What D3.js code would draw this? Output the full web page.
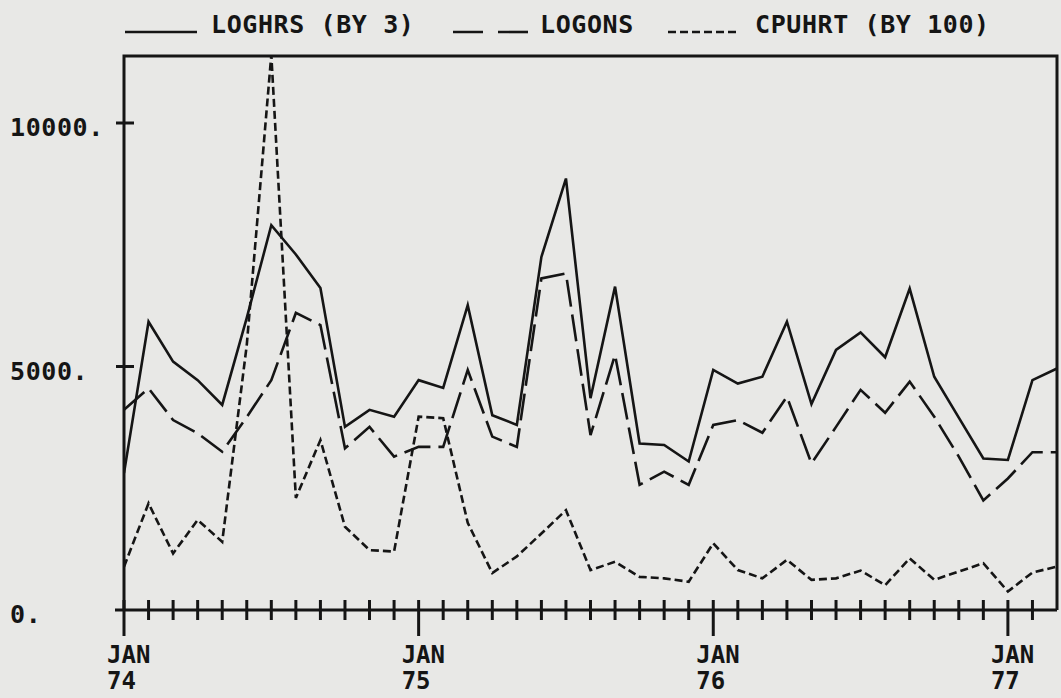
<!DOCTYPE html>
<html>
<head>
<meta charset="utf-8">
<script src="https://d3js.org/d3.v7.min.js"></script>
<style>
  body { margin: 0; background: #e8e8e6; }
  text { font-family: "DejaVu Sans Mono", monospace; font-weight: bold; fill: #151515; }
</style>
</head>
<body>
<div id="my_dataviz"></div>
<script>
// months since JAN 74 (0 .. 38 = MAR 77)
var months = d3.range(0, 39);

// LOGHRS (BY 3)
var loghrs = [2810, 5920, 5100, 4720, 4210, 6000, 7900, 7300, 6610, 3760,
              4110, 3970, 4720, 4560, 6260, 4000, 3800, 7250, 8860, 4350,
              6640, 3420, 3390, 3050, 4930, 4650, 4790, 5920, 4230, 5340,
              5700, 5190, 6600, 4790, 3950, 3110, 3080, 4720, 4960];

// LOGONS
var logons = [4110, 4550, 3900, 3630, 3250, 3960, 4720, 6100, 5850, 3320,
              3760, 3150, 3350, 3350, 4930, 3560, 3350, 6810, 6910, 3590,
              5240, 2570, 2840, 2570, 3800, 3900, 3640, 4380, 3010, 3760,
              4520, 4050, 4690, 3970, 3150, 2250, 2700, 3240, 3240];

// CPUHRT (BY 100)
var cpuhrt = [890, 2190, 1160, 1850, 1400, 5440, 11400, 2300, 3490, 1710,
              1230, 1200, 3970, 3940, 1790, 760, 1100, 1570, 2050, 820,
              990, 680, 650, 580, 1370, 820, 650, 1030, 620, 650,
              810, 510, 1060, 620, 790, 960, 380, 770, 890];

var yTicks = [0, 5000, 10000];
var yTickLabels = ["0.", "5000.", "10000."];
var xMajor = [0, 12, 24, 36];
var xMajorLabels = [["JAN", "74"], ["JAN", "75"], ["JAN", "76"], ["JAN", "77"]];

var W = 1061, H = 698;
// plot box (note: "top" is reserved on window, so use p* names)
var pLeft = 124, pRight = 1057, pTop = 56, pBottom = 610;

var svg = d3.select("#my_dataviz")
  .append("svg")
    .attr("width", W)
    .attr("height", H);

var x = d3.scaleLinear().domain([0, 38]).range([pLeft, pRight]);
var y = d3.scaleLinear().domain([0, 10000]).range([pBottom, 123]);

var ink = "#151515";

svg.append("clipPath").attr("id", "plotclip")
  .append("rect")
    .attr("x", pLeft).attr("y", pTop)
    .attr("width", pRight - pLeft).attr("height", pBottom - pTop);

// Series lines
var series = [
  {values: loghrs, dash: null},
  {values: logons, dash: "27,8"},
  {values: cpuhrt, dash: "8,4"}
];

var line = d3.line()
  .x(function(d, i) { return x(months[i]); })
  .y(function(d) { return y(d); });

svg.append("g")
  .attr("clip-path", "url(#plotclip)")
  .selectAll("path")
  .data(series)
  .enter().append("path")
    .attr("d", function(d) { return line(d.values); })
    .attr("fill", "none")
    .attr("stroke", ink)
    .attr("stroke-width", 2.6)
    .attr("stroke-linejoin", "miter")
    .attr("stroke-dasharray", function(d) { return d.dash; });

// Frame
svg.append("path")
  .attr("d", "M" + pLeft + "," + pBottom + "V" + pTop + "H" + pRight + "V" + pBottom)
  .attr("fill", "none")
  .attr("stroke", ink)
  .attr("stroke-width", 3);

// X axis line and month ticks
svg.append("line")
  .attr("x1", pLeft - 9).attr("x2", pRight)
  .attr("y1", pBottom).attr("y2", pBottom)
  .attr("stroke", ink).attr("stroke-width", 3);

svg.append("g").selectAll("line")
  .data(months.slice(0, 38))
  .enter().append("line")
    .attr("x1", function(d) { return x(d); })
    .attr("x2", function(d) { return x(d); })
    .attr("y1", pBottom - 10)
    .attr("y2", function(d) { return xMajor.indexOf(d) >= 0 ? pBottom + 26 : pBottom + 10; })
    .attr("stroke", ink).attr("stroke-width", 3);

// X labels
var xl = svg.append("g").selectAll("g")
  .data(xMajor)
  .enter().append("g");
xl.append("text")
  .attr("x", function(d) { return x(d) - 17; })
  .attr("y", 663)
  .style("font-size", "24px")
  .text(function(d, i) { return xMajorLabels[i][0]; });
xl.append("text")
  .attr("x", function(d) { return x(d) - 17; })
  .attr("y", 689)
  .style("font-size", "24px")
  .text(function(d, i) { return xMajorLabels[i][1]; });

// Y ticks and labels
svg.append("g").selectAll("line")
  .data(yTicks.slice(1))
  .enter().append("line")
    .attr("x1", pLeft - 8).attr("x2", pLeft + 10)
    .attr("y1", function(d) { return y(d); })
    .attr("y2", function(d) { return y(d); })
    .attr("stroke", ink).attr("stroke-width", 3);

svg.append("g").selectAll("text")
  .data(yTicks)
  .enter().append("text")
    .attr("x", 10)
    .attr("y", function(d) { return y(d) + 13; })
    .style("font-size", "25px")
    .style("letter-spacing", "0.6px")
    .text(function(d, i) { return yTickLabels[i]; });

// Legend / title
var legend = [
  {label: "LOGHRS (BY 3)", x1: 125, x2: 197, tx: 211, dash: null},
  {label: "LOGONS", x1: 453, x2: 528, tx: 540, dash: "30,15"},
  {label: "CPUHRT (BY 100)", x1: 668, x2: 740, tx: 755, dash: "8,4"}
];
var lg = svg.append("g").selectAll("g")
  .data(legend)
  .enter().append("g");
lg.append("line")
  .attr("x1", function(d) { return d.x1; })
  .attr("x2", function(d) { return d.x2; })
  .attr("y1", 32).attr("y2", 32)
  .attr("stroke", ink).attr("stroke-width", 2.6)
  .attr("stroke-dasharray", function(d) { return d.dash; });
lg.append("text")
  .attr("x", function(d) { return d.tx; })
  .attr("y", 33)
  .style("font-size", "25px")
  .style("letter-spacing", "0.6px")
  .text(function(d) { return d.label; });
</script>
</body>
</html>
